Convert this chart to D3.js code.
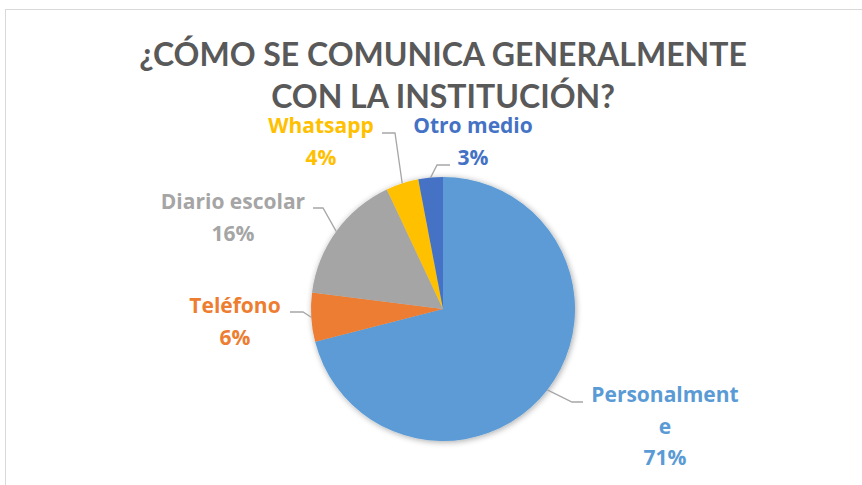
<!DOCTYPE html>
<html>
<head>
<meta charset="utf-8">
<script src="https://cdn.jsdelivr.net/npm/d3@7"></script>
<style>
  body { margin: 0; background: #fff; }
  text { font-family: Lato, "Open Sans", sans-serif; font-weight: bold; }
  text.lbl { font-family: "Open Sans", Lato, sans-serif; }
</style>
</head>
<body>
<svg id="chart" width="862" height="485"></svg>
<script>
// data
const categories = ["Personalmente", "Teléfono", "Diario escolar", "Whatsapp", "Otro medio"];
const values = [71, 6, 16, 4, 3];
const colors = ["#5B9BD5", "#ED7D31", "#A5A5A5", "#FFC000", "#4472C4"];
const titleLines = ["¿CÓMO SE COMUNICA GENERALMENTE", "CON LA INSTITUCIÓN?"];

// label layout (text lines, centre x / first baseline, elbow point and end of leader)
const labelLines = [["Personalment", "e", "71%"], ["Teléfono", "6%"], ["Diario escolar", "16%"], ["Whatsapp", "4%"], ["Otro medio", "3%"]];
const labelAt = [[665, 402], [235, 313], [233, 209], [321, 133], [473, 133]];
const elbowAt = [[572, 402], [303, 312], [323, 208], [395, 133], [437, 165]];
const leaderEnd = [[583, 402], [290, 312], [313, 208], [382, 133], [450, 165]];

const svg = d3.select("#chart");
const cx = 443, cy = 309, r = 132;

// chart area border
svg.append("rect")
  .attr("x", 5.5).attr("y", 9.5)
  .attr("width", 900).attr("height", 500)
  .attr("fill", "none")
  .attr("stroke", "#D9D9D9")
  .attr("stroke-width", 1);

// title
svg.selectAll(".title")
  .data(titleLines)
  .join("text")
  .attr("class", "title")
  .attr("x", cx)
  .attr("y", (d, i) => 66 + i * 42)
  .attr("text-anchor", "middle")
  .attr("fill", "#595959")
  .style("font-size", "32px")
  .text(d => d);

// soft shadow behind pie
const defs = svg.append("defs");
const f = defs.append("filter").attr("id", "glow")
  .attr("x", "-20%").attr("y", "-20%").attr("width", "140%").attr("height", "140%");
f.append("feGaussianBlur").attr("in", "SourceAlpha").attr("stdDeviation", 3).attr("result", "b");
f.append("feOffset").attr("in", "b").attr("dx", 1).attr("dy", 1).attr("result", "o");
f.append("feComponentTransfer").attr("in", "o").attr("result", "s")
  .append("feFuncA").attr("type", "linear").attr("slope", 0.35);
const m = f.append("feMerge");
m.append("feMergeNode").attr("in", "s");
m.append("feMergeNode").attr("in", "SourceGraphic");

const pie = d3.pie().sort(null).value(d => d);
const arcs = pie(values);
const arc = d3.arc().innerRadius(0).outerRadius(r);

const g = svg.append("g").attr("transform", `translate(${cx},${cy})`);
g.append("g").attr("filter", "url(#glow)")
  .selectAll("path")
  .data(arcs)
  .join("path")
  .attr("d", arc)
  .attr("fill", (d, i) => colors[i]);

// leader lines
const edge = d => {
  const a = (d.startAngle + d.endAngle) / 2;
  return [cx + r * Math.sin(a), cy - r * Math.cos(a)];
};
svg.selectAll(".leader")
  .data(arcs)
  .join("polyline")
  .attr("class", "leader")
  .attr("points", (d, i) => [edge(d), elbowAt[i], leaderEnd[i]].map(p => p.join(",")).join(" "))
  .attr("fill", "none")
  .attr("stroke", "#A6A6A6")
  .attr("stroke-width", 1.3);

// labels
arcs.forEach((d, i) => {
  const t = svg.append("text")
    .attr("class", "lbl")
    .attr("x", labelAt[i][0])
    .attr("y", labelAt[i][1])
    .attr("text-anchor", "middle")
    .attr("fill", colors[i])
    .style("font-size", "21px");
  labelLines[i].forEach((s, j) => {
    t.append("tspan")
      .attr("x", labelAt[i][0])
      .attr("dy", j === 0 ? 0 : 31.5)
      .text(s);
  });
});
</script>
</body>
</html>
